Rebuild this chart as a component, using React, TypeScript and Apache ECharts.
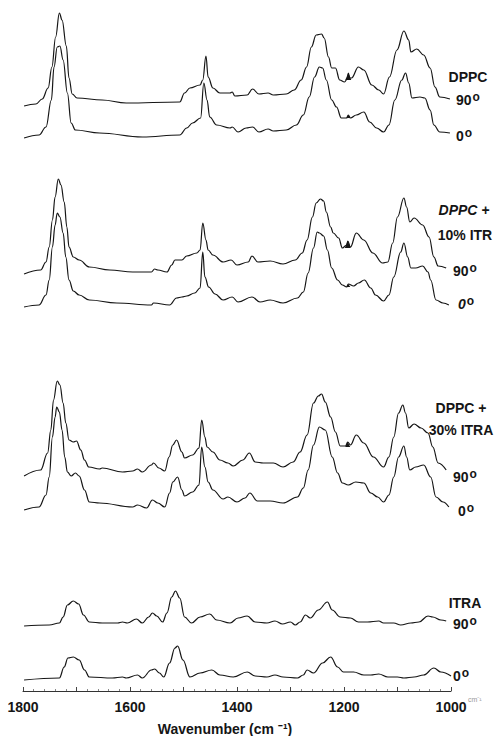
import React, { useEffect, useRef } from "react";
import * as echarts from "echarts";

type Pt = [number, number];

// Wavenumber (cm-1) vs relative absorbance (arbitrary units, relative to each trace's start)
const dppc90: Pt[] = [[1798,0],[1776,2],[1764,7],[1753,18],[1746,39],[1739,69],[1732,93],[1727,86],[1719,60],[1714,28],[1708,12],[1699,8],[1652,6],[1607,3],[1507,4],[1498,13],[1488,18],[1469,21],[1464,26],[1458,50],[1454,29],[1445,18],[1432,13],[1413,13],[1409,14],[1404,10],[1381,11],[1371,17],[1359,12],[1342,13],[1332,11],[1308,12],[1293,16],[1280,26],[1270,39],[1261,59],[1252,71],[1242,72],[1237,68],[1229,49],[1223,38],[1216,38],[1208,26],[1199,24],[1194,27],[1192,33],[1189,28],[1186,28],[1173,39],[1163,36],[1148,21],[1135,16],[1126,12],[1115,29],[1101,56],[1088,75],[1079,66],[1075,54],[1064,57],[1051,51],[1039,38],[1030,19],[1021,9],[1002,7]];
const dppc0: Pt[] = [[1798,0],[1770,3],[1757,11],[1747,38],[1742,71],[1736,91],[1731,92],[1725,78],[1717,45],[1710,15],[1702,8],[1657,5],[1577,1],[1507,3],[1494,10],[1483,15],[1468,20],[1462,55],[1456,38],[1451,21],[1438,13],[1413,10],[1409,11],[1398,6],[1383,10],[1371,11],[1359,6],[1342,9],[1332,7],[1308,8],[1289,13],[1276,23],[1265,41],[1255,61],[1246,71],[1240,70],[1233,58],[1223,38],[1214,31],[1205,20],[1195,20],[1192,23],[1188,20],[1177,23],[1163,26],[1152,16],[1139,10],[1126,6],[1116,13],[1105,38],[1092,58],[1085,65],[1079,55],[1073,40],[1058,41],[1049,40],[1039,28],[1032,13],[1021,6],[1002,5]];
const itr10_90: Pt[] = [[1798,0],[1767,4],[1757,12],[1751,27],[1745,54],[1740,77],[1734,95],[1729,89],[1723,72],[1718,47],[1714,27],[1706,17],[1695,14],[1676,7],[1638,4],[1595,2],[1560,2],[1554,5],[1548,4],[1531,2],[1522,9],[1516,14],[1503,14],[1494,18],[1475,21],[1469,24],[1464,51],[1458,34],[1454,24],[1445,19],[1426,12],[1411,14],[1400,9],[1379,12],[1372,18],[1361,12],[1338,13],[1314,10],[1291,14],[1278,21],[1269,34],[1259,57],[1252,71],[1244,75],[1238,73],[1233,62],[1225,47],[1220,41],[1210,36],[1203,26],[1195,29],[1193,33],[1188,27],[1177,41],[1163,34],[1146,21],[1128,11],[1118,12],[1109,31],[1100,57],[1088,76],[1083,67],[1077,52],[1069,56],[1053,49],[1041,37],[1032,17],[1024,8],[1009,6]];
const itr10_0: Pt[] = [[1798,0],[1770,2],[1757,12],[1751,27],[1745,60],[1740,82],[1736,94],[1731,90],[1725,74],[1720,50],[1714,27],[1706,16],[1695,12],[1676,7],[1625,4],[1560,2],[1556,4],[1526,2],[1513,9],[1503,10],[1494,11],[1479,14],[1469,19],[1464,55],[1460,30],[1453,20],[1441,13],[1426,7],[1409,10],[1398,5],[1372,10],[1357,5],[1338,7],[1314,4],[1287,9],[1276,15],[1267,34],[1257,59],[1250,75],[1246,74],[1238,71],[1231,57],[1223,39],[1212,27],[1203,22],[1195,20],[1192,23],[1182,21],[1173,24],[1162,27],[1150,19],[1141,12],[1126,6],[1116,12],[1107,30],[1094,55],[1088,64],[1081,50],[1075,39],[1066,39],[1053,41],[1043,35],[1038,27],[1028,7],[1015,4],[1004,2]];
const itra30_90: Pt[] = [[1798,0],[1767,6],[1754,23],[1748,46],[1743,76],[1736,95],[1731,91],[1725,73],[1720,53],[1714,36],[1706,34],[1700,35],[1692,26],[1685,16],[1677,9],[1657,7],[1652,8],[1614,4],[1595,5],[1586,7],[1577,4],[1560,11],[1556,13],[1546,8],[1535,5],[1527,19],[1520,31],[1513,36],[1503,24],[1498,18],[1483,21],[1471,28],[1466,56],[1460,39],[1456,29],[1445,24],[1432,16],[1417,13],[1407,10],[1389,16],[1377,23],[1366,14],[1351,13],[1332,13],[1314,9],[1295,14],[1282,24],[1269,41],[1257,73],[1248,80],[1242,82],[1235,74],[1225,59],[1216,44],[1207,30],[1197,30],[1193,34],[1188,31],[1177,41],[1163,33],[1145,19],[1126,9],[1116,19],[1107,39],[1098,63],[1090,71],[1085,63],[1079,48],[1069,52],[1056,48],[1043,43],[1034,29],[1024,13],[1009,6]];
const itra30_0: Pt[] = [[1798,0],[1770,3],[1757,15],[1751,33],[1745,73],[1740,93],[1737,103],[1732,98],[1727,80],[1722,53],[1717,38],[1710,34],[1702,37],[1695,34],[1685,20],[1676,8],[1657,7],[1595,3],[1586,5],[1569,2],[1558,10],[1548,7],[1535,3],[1526,17],[1520,28],[1511,33],[1503,20],[1498,14],[1483,18],[1471,25],[1466,63],[1460,43],[1454,28],[1445,20],[1426,11],[1417,13],[1400,8],[1385,12],[1376,17],[1362,9],[1338,9],[1314,7],[1287,13],[1276,22],[1267,40],[1257,65],[1246,83],[1235,80],[1222,53],[1212,37],[1203,27],[1192,25],[1178,28],[1163,27],[1150,17],[1137,13],[1126,8],[1116,15],[1107,33],[1098,53],[1088,64],[1083,53],[1077,40],[1066,43],[1051,45],[1038,33],[1028,13],[1015,8],[1004,3]];
const itra90: Pt[] = [[1798,0],[1751,1],[1732,3],[1725,9],[1717,21],[1706,25],[1696,22],[1687,11],[1676,4],[1652,3],[1623,3],[1614,4],[1605,3],[1588,7],[1577,3],[1565,9],[1558,13],[1550,10],[1539,4],[1531,13],[1522,29],[1515,35],[1507,28],[1498,9],[1485,3],[1469,9],[1451,12],[1438,6],[1413,3],[1398,8],[1381,10],[1366,4],[1344,3],[1329,5],[1315,2],[1300,4],[1291,1],[1282,4],[1272,11],[1263,8],[1248,16],[1231,24],[1222,16],[1207,9],[1188,8],[1173,4],[1156,4],[1135,5],[1126,3],[1107,3],[1094,1],[1075,3],[1060,4],[1043,10],[1034,9],[1019,6],[1009,5]];
const itra0: Pt[] = [[1798,0],[1732,2],[1723,13],[1716,22],[1706,23],[1695,20],[1685,10],[1676,3],[1633,2],[1614,3],[1607,2],[1586,5],[1577,2],[1560,10],[1554,11],[1545,7],[1537,3],[1526,17],[1516,32],[1511,34],[1501,20],[1488,3],[1469,7],[1447,10],[1432,5],[1407,3],[1381,8],[1366,4],[1344,3],[1329,5],[1314,3],[1287,2],[1276,5],[1269,10],[1257,7],[1240,17],[1225,23],[1212,13],[1201,8],[1182,8],[1163,5],[1150,5],[1135,6],[1118,3],[1100,3],[1088,2],[1069,3],[1051,5],[1032,12],[1019,8],[1000,4]];

const traces: Pt[][] = [dppc90, dppc0, itr10_90, itr10_0, itra30_90, itra30_0, itra90, itra0];
const traceNames = ["DPPC 90°", "DPPC 0°", "DPPC + 10% ITR 90°", "DPPC + 10% ITR 0°", "DPPC + 30% ITRA 90°", "DPPC + 30% ITRA 0°", "ITRA 90°", "ITRA 0°"];
// vertical stacking offsets (same arbitrary units)
const traceOffsets = [585, 553, 417, 384, 215, 181, 65, 11];
const xTickLabels = [1800, 1600, 1400, 1200, 1000];
const markerWavenumber = 1192;
const sampleLabels = ["DPPC", "DPPC +", "10% ITR", "DPPC +", "30% ITRA", "ITRA"];
const angleLabels = ["90", "0", "90", "0", "90", "0", "90", "0"];

const FONT = '"Liberation Sans", Arial, Helvetica, sans-serif';
const INK = "#151515";

export default function App() {
  const ref = useRef<HTMLDivElement>(null);
  useEffect(() => {
    document.body.style.margin = "0";
    if (!ref.current) return;
    const chart = echarts.init(ref.current, null, { renderer: "svg" });

    const markerSizes: (number[] | null)[] = [[6, 7], [4, 3], [6, 7], [4, 3], [5, 5], null, null, null];

    const series = traces.map((tr, i) => {
      const data = tr.map(([w, a]) => [w, traceOffsets[i] + a]);
      const s: any = {
        type: "line",
        name: traceNames[i],
        data,
        showSymbol: false,
        smooth: 0.4,
        smoothMonotone: "x",
        lineStyle: { color: INK, width: 1.2 },
        silent: true,
      };
      const ms = markerSizes[i];
      if (ms) {
        let best = tr[0];
        tr.forEach((p) => {
          if (Math.abs(p[0] - markerWavenumber) < Math.abs(best[0] - markerWavenumber)) best = p;
        });
        s.markPoint = {
          symbol: "triangle",
          symbolSize: ms,
          symbolOffset: [0, ms[1] / 2],
          silent: true,
          label: { show: false },
          itemStyle: { color: INK },
          data: [{ coord: [best[0], traceOffsets[i] + best[1]] }],
        };
      }
      return s;
    });

    const txt = (text: string, x: number, y: number, opts: any = {}) => ({
      type: "text",
      x,
      y,
      silent: true,
      style: {
        text,
        font: opts.font || `bold 14px ${FONT}`,
        fill: opts.fill || INK,
        textAlign: opts.align || "center",
        textVerticalAlign: "middle",
      },
    });

    const deg = (num: string, x: number, y: number, italic = false) => {
      const w = num.length * 7.8;
      return [
        txt(num, x, y, { align: "left", font: `${italic ? "italic " : ""}bold 14px ${FONT}` }),
        txt("o", x + w + 1, y - 3, { align: "left", font: `bold 12px ${FONT}` }),
      ];
    };

    const anglePos: [number, number, boolean][] = [
      [456, 100, false], [456, 136, false],
      [453, 271, false], [458, 304, true],
      [453, 477, false], [458, 511, false],
      [453, 624, false], [453, 676, false],
    ];

    const graphics: any[] = [
      txt(sampleLabels[0], 468, 77),
      txt(sampleLabels[1], 464, 210, { font: `italic bold 14px ${FONT}` }),
      txt(sampleLabels[2], 465, 235),
      txt(sampleLabels[3], 461, 408),
      txt(sampleLabels[4], 461, 430),
      txt(sampleLabels[5], 465, 603),
      txt("Wavenumber (cm ⁻¹)", 225, 729, { font: `bold 14px ${FONT}` }),
      txt("cm⁻¹", 468, 699, { align: "left", font: `7px ${FONT}`, fill: "#999" }),
    ];
    anglePos.forEach(([x, y, it], i) => graphics.push(...deg(angleLabels[i], x, y, it)));

    chart.setOption({
      animation: false,
      backgroundColor: "#ffffff",
      grid: { left: 23, right: 45, top: 0, bottom: 45 },
      xAxis: {
        type: "value",
        min: 1000,
        max: 1800,
        interval: 100,
        inverse: true,
        axisLine: { show: true, onZero: false, lineStyle: { color: "#333", width: 1 } },
        axisTick: { show: true, inside: true, length: 4, lineStyle: { color: "#444" } },
        minorTick: { show: true, splitNumber: 5, length: 2, lineStyle: { color: "#888" } },
        splitLine: { show: false },
        axisLabel: {
          show: true,
          margin: 9,
          fontSize: 14,
          fontWeight: "bold",
          fontFamily: FONT,
          color: INK,
          showMinLabel: true,
          showMaxLabel: true,
          hideOverlap: false,
          formatter: (v: number) => (xTickLabels.includes(v) ? String(v) : ""),
        },
      },
      yAxis: { type: "value", min: 0, max: 691, show: false },
      series,
      graphic: graphics,
    });
    return () => chart.dispose();
  }, []);
  return <div ref={ref} style={{ width: 496, height: 736 }} />;
}
